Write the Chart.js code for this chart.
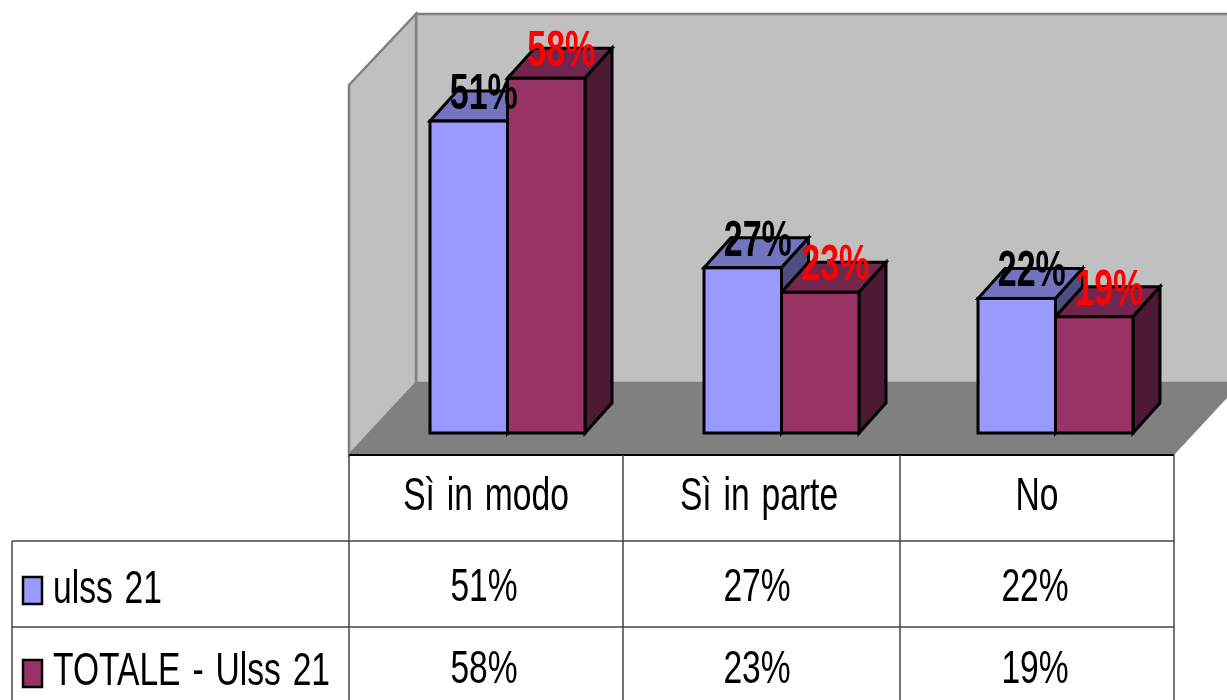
<!DOCTYPE html>
<html>
<head>
<meta charset="utf-8">
<style>html,body{margin:0;padding:0;background:#fff;overflow:hidden}canvas{display:block}</style>
<script src="https://cdn.jsdelivr.net/npm/chart.js@4/dist/chart.umd.min.js"></script>
</head>
<body>
<canvas id="c" width="1227" height="700"></canvas>
<script>
const categories = ["Sì in modo", "Sì in parte", "No"];
const seriesNames = ["ulss 21", "TOTALE - Ulss 21"];
const ulss21 = [51, 27, 22];
const totale = [58, 23, 19];
const frontColors = ["#9999FF", "#993366"];
const topColors = ["#7373BF", "#73264D"];
const sideColors = ["#4D4D80", "#4D1A33"];
const labelColors = ["#000000", "#FF0000"];
const DX = 27, DY = -30;

function poly(ctx, pts, fill, stroke, lw) {
  ctx.beginPath();
  pts.forEach((p, i) => i ? ctx.lineTo(p[0], p[1]) : ctx.moveTo(p[0], p[1]));
  ctx.closePath();
  if (fill) { ctx.fillStyle = fill; ctx.fill(); }
  if (stroke) { ctx.strokeStyle = stroke; ctx.lineWidth = lw; ctx.lineJoin = "miter"; ctx.stroke(); }
}
function line(ctx, x1, y1, x2, y2) {
  ctx.beginPath(); ctx.moveTo(x1, y1); ctx.lineTo(x2, y2); ctx.stroke();
}
function narrowText(ctx, text, x, y, font, color, sx, align, spacing) {
  ctx.save();
  ctx.font = font; ctx.fillStyle = color; ctx.textAlign = align; ctx.textBaseline = "alphabetic";
  ctx.wordSpacing = spacing || "0px";
  ctx.translate(x, y); ctx.scale(sx, 1);
  ctx.fillText(text, 0, 0);
  ctx.restore();
}

const scene = {
  id: "scene",
  beforeDatasetsDraw(chart) {
    const ctx = chart.ctx;
    ctx.save();
    // walls and floor
    poly(ctx, [[416,14],[1240,14],[1240,383],[416,383]], "#C0C0C0", "#808080", 2.5);
    poly(ctx, [[349,85],[416,14],[416,383],[349,455]], "#C0C0C0", "#808080", 2.5);
    poly(ctx, [[349,455],[416,383],[1241,383],[1174,455]], "#808080", null);
    // top and side faces of the bars
    [0, 1].forEach(d => {
      chart.getDatasetMeta(d).data.forEach(b => {
        const l = b.x - b.width / 2, r = b.x + b.width / 2, t = b.y, bt = b.base;
        poly(ctx, [[l,t],[l+DX,t+DY],[r+DX,t+DY],[r,t]], topColors[d], "#000", 3);
        poly(ctx, [[r,t],[r+DX,t+DY],[r+DX,bt+DY],[r,bt]], sideColors[d], "#000", 3);
      });
    });
    ctx.restore();
  },
  afterDatasetsDraw(chart) {
    const ctx = chart.ctx;
    ctx.save();
    // outlines of the front faces
    [0, 1].forEach(d => {
      chart.getDatasetMeta(d).data.forEach(b => {
        ctx.strokeStyle = "#000"; ctx.lineWidth = 3;
        ctx.strokeRect(b.x - b.width / 2, b.y, b.width, b.base - b.y);
      });
    });
    // value labels
    [0, 1].forEach(d => {
      const vals = chart.data.datasets[d].data;
      chart.getDatasetMeta(d).data.forEach((b, i) => {
        narrowText(ctx, vals[i] + "%", b.x + 15, b.y - 12, 'bold 50px "Liberation Sans"', labelColors[d], 0.68, "center");
      });
    });
    // data table
    ctx.strokeStyle = "#000"; ctx.lineWidth = 2;
    line(ctx, 349, 455, 1174, 455);
    ctx.strokeStyle = "#444"; ctx.lineWidth = 1.5;
    line(ctx, 12, 541, 1174, 541);
    line(ctx, 12, 627, 1174, 627);
    [349, 623, 900, 1174].forEach(x => line(ctx, x, 455, x, 700));
    line(ctx, 12, 541, 12, 700);
    const font = '46px "Liberation Sans"';
    const cols = [486, 759, 1037];
    categories.forEach((c, i) => {
      narrowText(ctx, c, cols[i], 510, font, "#000", 0.73, "center", "3.5px");
      narrowText(ctx, ulss21[i] + "%", cols[i] - 2, 601, font, "#000", 0.73, "center");
      narrowText(ctx, totale[i] + "%", cols[i] - 2, 683, font, "#000", 0.73, "center");
    });
    [[603, 577], [685, 660]].forEach((pos, d) => {
      ctx.fillStyle = frontColors[d]; ctx.strokeStyle = "#000"; ctx.lineWidth = 2.5;
      ctx.fillRect(23, pos[1], 19, 27); ctx.strokeRect(23, pos[1], 19, 27);
      narrowText(ctx, seriesNames[d], 53, pos[0], font, "#000", 0.73, "left", "3.5px");
    });
    ctx.restore();
  }
};

new Chart(document.getElementById("c"), {
  type: "bar",
  data: {
    labels: categories,
    datasets: [
      { label: seriesNames[0], data: ulss21, backgroundColor: frontColors[0], borderWidth: 0 },
      { label: seriesNames[1], data: totale, backgroundColor: frontColors[1], borderWidth: 0 }
    ]
  },
  options: {
    responsive: false,
    animation: false,
    events: [],
    layout: { padding: { left: 370.5, right: 34.5, top: 66, bottom: 267 } },
    barThickness: 77.5,
    scales: {
      x: { display: false },
      y: { display: false, min: 0, max: 60 }
    },
    plugins: { legend: { display: false }, tooltip: { enabled: false } }
  },
  plugins: [scene]
});
</script>
</body>
</html>
